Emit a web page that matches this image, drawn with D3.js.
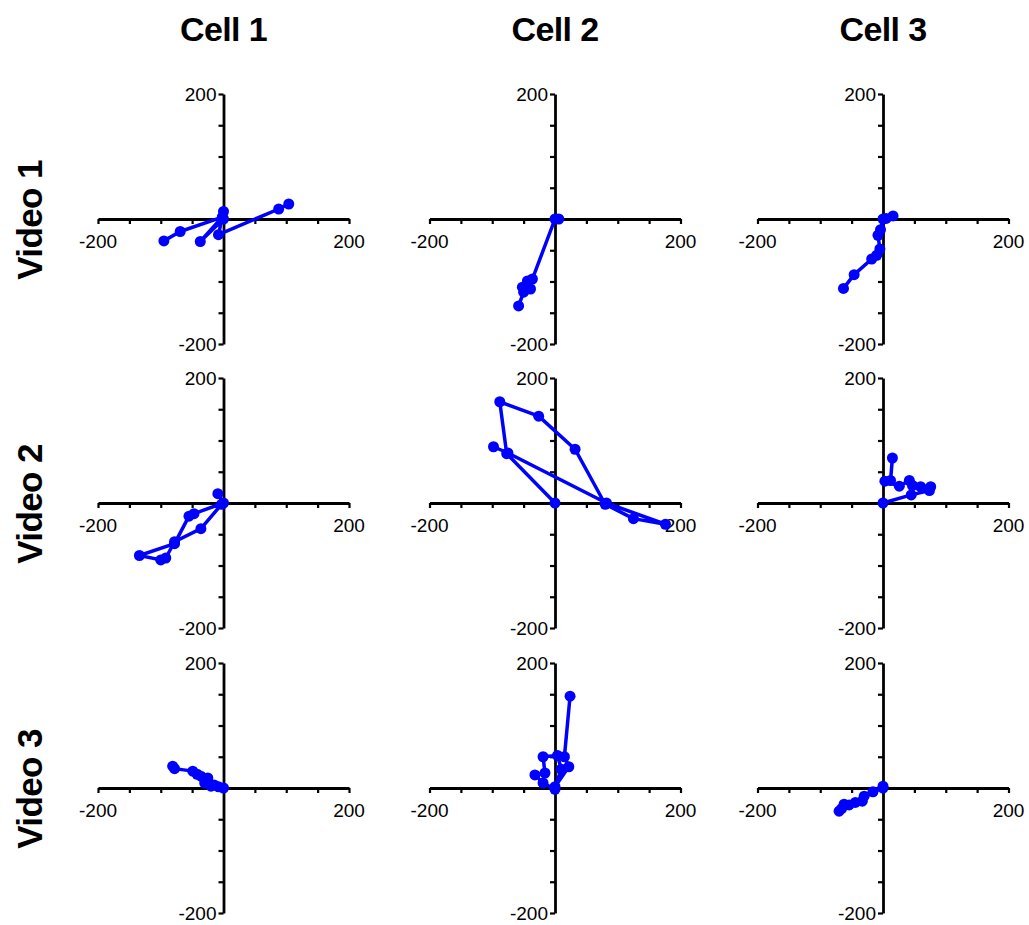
<!DOCTYPE html>
<html>
<head>
<meta charset="utf-8">
<script src="https://cdn.jsdelivr.net/npm/d3@7"></script>
<style>
  html, body { margin: 0; padding: 0; background: #fff; }
  svg { display: block; }
</style>
</head>
<body>
<svg id="chart" width="1029" height="925"></svg>
<script>
// ---- data ----
const cells = ["Cell 1", "Cell 2", "Cell 3"];
const videos = ["Video 1", "Video 2", "Video 3"];
const axisDomain = [-200, 200];
const tickValues = [-200, -150, -100, -50, 0, 50, 100, 150, 200];
const tickLabels = ["-200", "200"];

// trajectories [x, y] per video (row) and cell (column)
const v1c1 = [[-95,-35],[-69,-20],[-2,3],[-37,-36],[0,0],[0,12],[-8,-25],[88,16],[104,24]];
const v1c2 = [[6,0],[0,0],[-36,-96],[-44,-99],[-52,-109],[-39,-112],[-50,-117],[-58,-139]];
const v1c3 = [[16,5],[5,1],[0,0],[-4,-17],[-8,-26],[-5,-48],[-10,-58],[-18,-64],[-46,-89],[-63,-111]];
const v2c1 = [[-9,15],[0,0],[-47,-17],[-55,-21],[-78,-65],[-134,-84],[-100,-91],[-92,-88],[-78,-62],[-36,-41],[-3,-2]];
const v2c2 = [[0,0],[-77,79],[-88,162],[-26,139],[32,86],[80,-2],[125,-25],[176,-34],[82,0],[-75,80],[-98,90]];
const v2c3 = [[15,72],[12,36],[3,35],[26,27],[42,36],[47,28],[60,26],[76,26],[74,20],[45,13],[0,0]];
const v3c1 = [[-81,35],[-78,31],[-49,27],[-42,22],[-36,19],[-25,16],[-30,8],[-15,5],[-20,3],[-8,2],[0,0]];
const v3c2 = [[0,-2],[-19,8],[-32,21],[-16,24],[-19,50],[4,52],[10,30],[0,2],[22,34],[15,50],[24,147]];
const v3c3 = [[0,3],[0,0],[-16,-6],[-30,-13],[-33,-21],[-44,-23],[-54,-27],[-62,-26],[-66,-33],[-70,-37]];

const panels = [
  [v1c1, v1c2, v1c3],
  [v2c1, v2c2, v2c3],
  [v3c1, v3c2, v3c3]
];

// ---- layout ----
const colCenters = [223.5, 555, 883];
const rowCenters = [219, 503, 788];
const halfW = 125.5, halfH = 125;
const blue = "#0000ff";
const font = "'Liberation Sans', Arial, sans-serif";

const svg = d3.select("#chart");

// column titles
svg.selectAll("text.col").data(cells).join("text")
  .attr("class", "col")
  .attr("x", (d, i) => colCenters[i])
  .attr("y", 41)
  .attr("text-anchor", "middle")
  .style("font-family", font)
  .style("font-weight", "bold")
  .style("font-size", "34px")
  .style("letter-spacing", "-0.6px")
  .text(d => d);

// row titles
svg.selectAll("text.row").data(videos).join("text")
  .attr("class", "row")
  .attr("transform", (d, i) => `translate(42,${rowCenters[i] + 1}) rotate(-90)`)
  .attr("text-anchor", "middle")
  .style("font-family", font)
  .style("font-weight", "bold")
  .style("font-size", "35px")
  .style("letter-spacing", "-0.6px")
  .text(d => d);

panels.forEach((row, r) => {
  row.forEach((pts, c) => {
    const cx = colCenters[c], cy = rowCenters[r];
    const x = d3.scaleLinear().domain(axisDomain).range([cx - halfW, cx + halfW]);
    const y = d3.scaleLinear().domain(axisDomain).range([cy + halfH, cy - halfH]);
    const g = svg.append("g");

    // x axis through origin, ticks below
    const xAxis = d3.axisBottom(x).tickValues(tickValues.filter(v => v !== 0))
      .tickSize(5).tickSizeOuter(0).tickFormat("");
    const gx = g.append("g").attr("transform", `translate(0,${y(0)})`).call(xAxis);
    // y axis through origin, ticks left
    const yAxis = d3.axisLeft(y).tickValues(tickValues.filter(v => v !== 0))
      .tickSize(5).tickSizeOuter(0).tickFormat("");
    const gy = g.append("g").attr("transform", `translate(${x(0)},0)`).call(yAxis);
    [gx, gy].forEach(a => {
      a.select(".domain").attr("stroke", "#000").attr("stroke-width", 2.8);
      a.selectAll(".tick line").attr("stroke", "#000").attr("stroke-width", 2.2);
    });

    // x labels
    g.append("text").attr("x", x(-200)).attr("y", y(0) + 29)
      .attr("text-anchor", "middle").style("font-family", font).style("font-size", "19px")
      .text(tickLabels[0]);
    g.append("text").attr("x", x(200)).attr("y", y(0) + 29)
      .attr("text-anchor", "middle").style("font-family", font).style("font-size", "19px")
      .text(tickLabels[1]);
    // y labels
    g.append("text").attr("x", x(0) - 7).attr("y", y(200) + 7)
      .attr("text-anchor", "end").style("font-family", font).style("font-size", "19px")
      .text(tickLabels[1]);
    g.append("text").attr("x", x(0) - 7).attr("y", y(-200) + 7)
      .attr("text-anchor", "end").style("font-family", font).style("font-size", "19px")
      .text(tickLabels[0]);

    // trajectory
    const line = d3.line().x(d => x(d[0])).y(d => y(d[1]));
    g.append("path").datum(pts).attr("d", line)
      .attr("fill", "none").attr("stroke", blue).attr("stroke-width", 3.5)
      .attr("stroke-linejoin", "round");
    g.selectAll("circle").data(pts).join("circle")
      .attr("cx", d => x(d[0])).attr("cy", d => y(d[1])).attr("r", 5.5)
      .attr("fill", blue);
  });
});
</script>
</body>
</html>
